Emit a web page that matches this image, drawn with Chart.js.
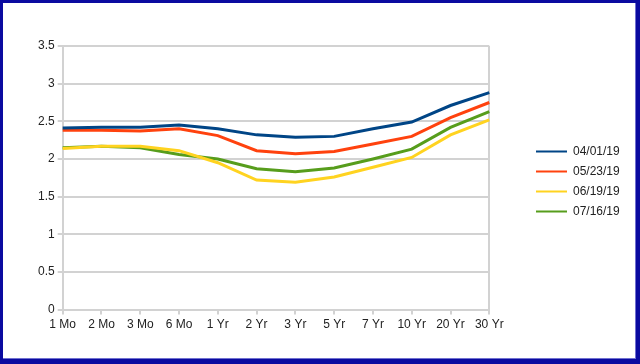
<!DOCTYPE html>
<html>
<head>
<meta charset="utf-8">
<script src="https://cdn.jsdelivr.net/npm/chart.js@4/dist/chart.umd.min.js"></script>
<style>
    html, body { margin: 0; padding: 0; background: #fff; }
    #wrap { position: relative; width: 640px; height: 364px; }
    #frame {
        position: absolute; left: 0; top: 0; width: 640px; height: 364px;
        box-sizing: border-box;
        border-style: solid; border-color: #0a0aa0;
        border-width: 3px 4px 5px 3px;
        box-shadow: inset -1px -1px 0 #7070d0;
        pointer-events: none;
    }
</style>
</head>
<body>
<div id="wrap">
    <canvas id="chart" width="640" height="364"></canvas>
    <div id="frame"></div>
</div>
<script>
/* ==========================
   DATA
========================== */
const maturities = ["1 Mo", "2 Mo", "3 Mo", "6 Mo", "1 Yr", "2 Yr", "3 Yr", "5 Yr", "7 Yr", "10 Yr", "20 Yr", "30 Yr"];
const seriesNames = ["04/01/19", "05/23/19", "06/19/19", "07/16/19"];
const apr01 = [2.41, 2.42, 2.42, 2.45, 2.40, 2.32, 2.29, 2.30, 2.40, 2.49, 2.71, 2.88];
const may23 = [2.38, 2.38, 2.37, 2.40, 2.31, 2.11, 2.07, 2.10, 2.20, 2.30, 2.55, 2.75];
const jun19 = [2.14, 2.17, 2.17, 2.11, 1.95, 1.72, 1.69, 1.76, 1.89, 2.02, 2.32, 2.52];
const jul16 = [2.15, 2.17, 2.15, 2.06, 2.00, 1.87, 1.83, 1.88, 2.00, 2.13, 2.42, 2.63];
const yTicks = [0, 0.5, 1, 1.5, 2, 2.5, 3, 3.5];

const colors = ["#004586", "#ff420e", "#ffd320", "#579d1c"];
const gridGray = "#d2d2d2";

/* ==========================
   LEGEND NUDGE
========================== */
const legendShift = {
    id: "legendShift",
    afterLayout(chart) {
        const lg = chart.legend;
        const dx = 536 - 8 - lg.left;
        const dy = 181.5 - (lg.top + lg.bottom) / 2;
        lg.left += dx;
        lg.right += dx;
        lg.top += dy;
        lg.bottom += dy;
    }
};

/* ==========================
   CHART
========================== */
const ctx = document.getElementById("chart");
const allSeries = [apr01, may23, jun19, jul16];

new Chart(ctx, {
    type: "line",
    data: {
        labels: maturities,
        datasets: allSeries.map((vals, i) => ({
            label: seriesNames[i],
            data: vals,
            borderColor: colors[i],
            backgroundColor: colors[i],
            borderWidth: 3,
            pointRadius: 0,
            tension: 0,
            fill: false
        }))
    },
    options: {
        responsive: false,
        animation: false,
        layout: { padding: { left: 35, right: 49, top: 46, bottom: 29 } },
        plugins: {
            tooltip: { enabled: false },
            legend: {
                position: "right",
                labels: {
                    usePointStyle: true,
                    pointStyle: "line",
                    pointStyleWidth: 31,
                    padding: 8,
                    color: "#222",
                    font: { family: "'Liberation Sans', Arial, sans-serif", size: 12 },
                    generateLabels(chart) {
                        const items = Chart.defaults.plugins.legend.labels.generateLabels(chart);
                        items.forEach(it => { it.lineWidth = 2; });
                        return items;
                    }
                }
            }
        },
        scales: {
            x: {
                offset: false,
                grid: {
                    color: c => c.index === maturities.length - 1 ? gridGray : "transparent",
                    tickColor: gridGray,
                    lineWidth: 2,
                    tickLength: 5
                },
                border: { color: gridGray, width: 2 },
                ticks: {
                    autoSkip: false,
                    maxRotation: 0,
                    padding: 3,
                    color: "#222",
                    font: { family: "'Liberation Sans', Arial, sans-serif", size: 12 }
                }
            },
            y: {
                min: 0,
                max: 3.5,
                afterBuildTicks(scale) {
                    scale.ticks = yTicks.map(v => ({ value: v }));
                },
                grid: { color: gridGray, lineWidth: 2, tickLength: 5 },
                border: { color: gridGray, width: 2 },
                ticks: {
                    padding: 3,
                    color: "#222",
                    font: { family: "'Liberation Sans', Arial, sans-serif", size: 12 },
                    callback: v => String(v)
                }
            }
        }
    },
    plugins: [legendShift]
});
</script>
</body>
</html>
